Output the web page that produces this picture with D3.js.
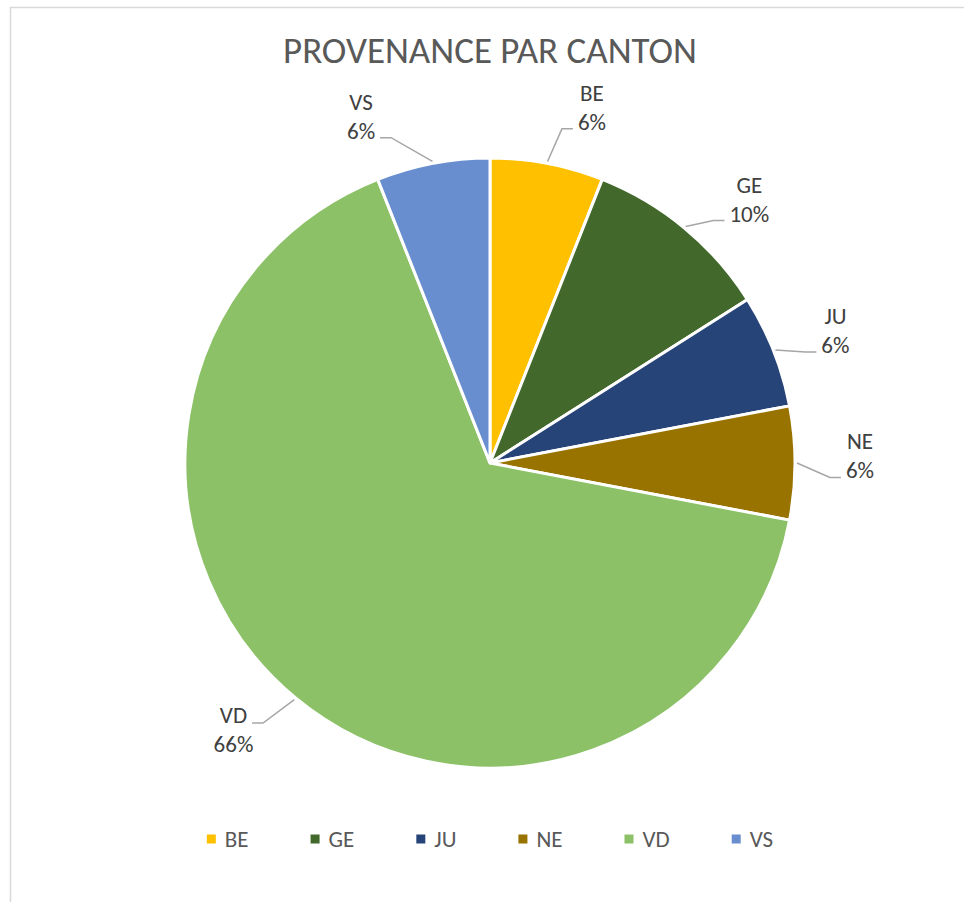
<!DOCTYPE html>
<html>
<head>
<meta charset="utf-8">
<script src="https://cdn.jsdelivr.net/npm/d3@7"></script>
<style>
  body { margin: 0; background: #fff; }
  svg { display: block; font-family: Calibri, Carlito, "Liberation Sans", sans-serif; }
</style>
</head>
<body>
<div id="chart"></div>
<script>
// Chart size
const width = 964;
const height = 902;

// Data
const cantons = ["BE", "GE", "JU", "NE", "VD", "VS"];
const counts = [3, 5, 3, 3, 33, 3];
const colors = ["#FFC000", "#43682B", "#264478", "#997300", "#8CC168", "#698ED0"];

// Label placement tweaks (degrees off the slice middle), layout only
const labelNudge = { BE: 5.2, GE: 4.9, JU: 0.6, NE: -1.1, VD: 4.3, VS: -9.6 };

const cx = 490, cy = 463, radius = 305;
const labelRadius = 370;
const lineGap = 29;
const labelSize = 23;

const svg = d3.select("#chart")
  .append("svg")
  .attr("width", width)
  .attr("height", height);

// Chart area border
svg.append("rect")
  .attr("x", 10.5)
  .attr("y", 7.5)
  .attr("width", 1000)
  .attr("height", 1000)
  .attr("fill", "#fff")
  .attr("stroke", "#D9D9D9")
  .attr("stroke-width", 1.5);

// Title
svg.append("text")
  .attr("x", cx)
  .attr("y", 63)
  .attr("text-anchor", "middle")
  .attr("font-size", 37)
  .attr("fill", "#595959")
  .text("PROVENANCE PAR CANTON");

const data = cantons.map((c, i) => ({ name: c, value: counts[i], color: colors[i] }));
const total = d3.sum(counts);

const pie = d3.pie().sort(null).value(d => d.value);
const arc = d3.arc().innerRadius(0).outerRadius(radius);
const arcs = pie(data);

const g = svg.append("g").attr("transform", `translate(${cx},${cy})`);

g.selectAll("path.slice")
  .data(arcs)
  .enter()
  .append("path")
  .attr("class", "slice")
  .attr("d", arc)
  .attr("fill", d => d.data.color)
  .attr("stroke", "#fff")
  .attr("stroke-width", 3)
  .attr("stroke-linejoin", "round");

// polar helper, angle in radians from 12 o'clock
const polar = (a, r) => [r * Math.sin(a), -r * Math.cos(a)];

// Data labels
arcs.forEach(d => {
  const mid = (d.startAngle + d.endAngle) / 2;
  const la = mid + labelNudge[d.data.name] * Math.PI / 180;
  const [lx, ly] = polar(la, labelRadius);
  const base1 = ly - 6.5;
  const pct = Math.round(d.data.value / total * 100) + "%";

  const t = g.append("text")
    .attr("text-anchor", "middle")
    .attr("font-size", labelSize)
    .attr("fill", "#404040");
  const l1 = t.append("tspan").attr("x", lx).attr("y", base1).text(d.data.name);
  const l2 = t.append("tspan").attr("x", lx).attr("y", base1 + lineGap).text(pct);

  // leader line
  const rightSide = lx > 0;
  const below = ly > 40;
  const line = below ? l1 : l2;
  const lineY = below ? base1 : base1 + lineGap - 1;
  const w = line.node().getComputedTextLength();
  const ax = rightSide ? lx - w / 2 - 5 : lx + w / 2 + 5;
  const ex = rightSide ? ax - 11 : ax + 11;
  const [sx, sy] = polar(mid, radius + 2);

  g.append("polyline")
    .attr("points", [[sx, sy], [ex, lineY], [ax, lineY]].map(p => p.join(",")).join(" "))
    .attr("fill", "none")
    .attr("stroke", "#A6A6A6")
    .attr("stroke-width", 1.5);
});

// Legend
const legend = svg.append("g");
let pos = 0;
let legendEnd = 0;
data.forEach(d => {
  const item = legend.append("g").attr("transform", `translate(${pos},0)`);
  item.append("rect")
    .attr("x", 0)
    .attr("y", -4.5)
    .attr("width", 9)
    .attr("height", 9)
    .attr("fill", d.color);
  const txt = item.append("text")
    .attr("x", 18)
    .attr("y", 8)
    .attr("font-size", labelSize)
    .attr("fill", "#595959")
    .text(d.name);
  const tw = txt.node().getComputedTextLength();
  legendEnd = pos + 18 + tw;
  pos += 18 + tw + 62;
});
legend.attr("transform", `translate(${cx - legendEnd / 2},839)`);
</script>
</body>
</html>
